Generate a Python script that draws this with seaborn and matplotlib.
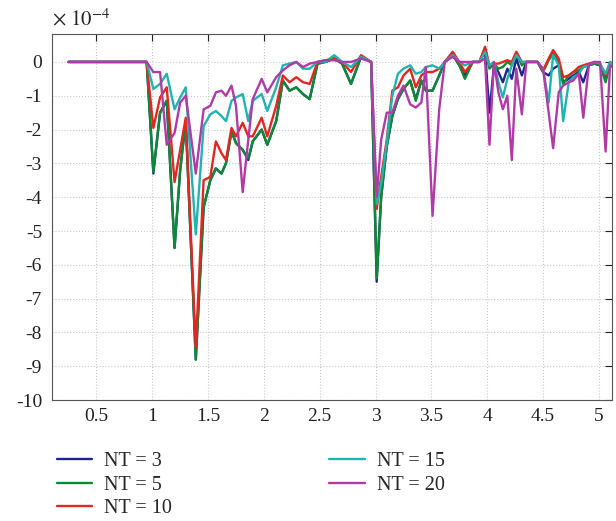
import matplotlib
matplotlib.use("Agg")
from matplotlib import pyplot as plt
import pandas as pd
import seaborn as sns

# abscissa shared by all curves
t = [0.25, 0.95, 1.01, 1.07, 1.13, 1.20, 1.25, 1.30, 1.39, 1.46,
     1.52, 1.57, 1.62, 1.66, 1.71, 1.75, 1.81, 1.86, 1.90, 1.98,
     2.03, 2.11, 2.17, 2.23, 2.29, 2.35, 2.41, 2.48, 2.55, 2.63,
     2.70, 2.78, 2.87, 2.96, 3.01, 3.05, 3.10, 3.15, 3.20, 3.25,
     3.31, 3.36, 3.41, 3.45, 3.51, 3.57, 3.62, 3.69, 3.75, 3.80,
     3.87, 3.93, 3.98, 4.02, 4.06, 4.10, 4.14, 4.18, 4.22, 4.26,
     4.31, 4.35, 4.40, 4.45, 4.50, 4.55, 4.59, 4.64, 4.68, 4.73,
     4.77, 4.82, 4.86, 4.91, 4.96, 5.01, 5.06, 5.10, 5.12]

# values in units of 1e-4
nt3 = [0, 0, -3.3, -1.5, -1.15, -5.5, -3.2, -1.75, -8.8, -4.3,
       -3.5, -3.15, -3.3, -3.0, -2.05, -2.4, -2.6, -2.9, -2.35, -2.0,
       -2.45, -1.75, -0.55, -0.85, -0.75, -0.95, -1.1, -0.05, 0.0, 0.1,
       -0.05, -0.65, 0.15, 0.0, -6.5, -4.0, -2.5, -1.6, -1.1, -0.8,
       -0.55, -1.1, -0.55, -0.85, -0.85, -0.4, 0.0, 0.2, -0.1, -0.4,
       0.0, 0.0, 0.3, -1.5, -0.1, -0.3, -0.6, -0.2, -0.5, 0.1,
       -0.4, 0.0, 0.0, 0.0, -0.3, -0.4, -0.2, -0.1, -0.6, -0.5,
       -0.4, -0.3, -0.6, -0.1, -0.05, -0.1, -0.5, -0.05, -0.1]
nt5 = [0, 0, -3.25, -1.5, -1.15, -5.5, -3.2, -1.75, -8.8, -4.3,
       -3.5, -3.15, -3.3, -3.0, -2.05, -2.4, -2.6, -2.85, -2.35, -2.0,
       -2.45, -1.75, -0.55, -0.85, -0.75, -0.95, -1.1, -0.05, 0.0, 0.1,
       -0.05, -0.65, 0.15, 0.0, -6.4, -4.0, -2.5, -1.6, -1.1, -0.8,
       -0.55, -1.15, -0.55, -0.85, -0.85, -0.4, 0.0, 0.25, -0.1, -0.5,
       0.0, 0.0, 0.4, -0.2, -0.05, -0.2, -0.15, 0.0, -0.1, 0.25,
       -0.1, 0.0, 0.0, 0.0, -0.3, 0.05, 0.25, 0.0, -0.65, -0.4,
       -0.3, -0.25, -0.15, -0.1, -0.05, -0.1, -0.6, -0.05, -0.1]
nt10 = [0, 0, -1.95, -1.05, -0.75, -3.55, -2.6, -1.65, -8.45, -3.5,
        -3.4, -2.35, -2.7, -2.9, -1.95, -2.2, -1.8, -2.2, -2.2, -1.65,
        -2.2, -1.3, -0.4, -0.6, -0.45, -0.6, -0.65, 0.0, 0.05, 0.1,
        0.0, -0.3, 0.2, 0.0, -4.35, -3.4, -2.3, -0.85, -0.75, -0.4,
        -0.2, -0.75, -0.4, -0.3, -0.3, -0.2, 0.0, 0.3, 0.0, -0.3,
        0.0, 0.0, 0.45, -0.1, -0.05, -0.05, 0.0, 0.05, 0.0, 0.3,
        0.0, 0.0, 0.0, 0.0, -0.25, 0.1, 0.35, 0.1, -0.45, -0.4,
        -0.3, -0.15, -0.1, -0.05, 0.0, -0.05, -0.4, 0.0, -0.05]
nt15 = [0, 0, -0.8, -0.65, -0.35, -1.4, -1.05, -0.75, -5.1, -1.9,
        -1.55, -1.45, -1.6, -1.75, -1.15, -1.05, -0.95, -1.75, -1.15, -0.95,
        -1.45, -0.75, -0.1, -0.05, 0.0, -0.2, -0.2, 0.0, 0.0, 0.2,
        0.0, -0.15, 0.15, 0.0, -4.2, -3.6, -2.4, -1.0, -0.35, -0.2,
        -0.1, -0.35, -0.3, -0.15, -0.1, -0.2, 0.0, 0.2, 0.0, -0.1,
        0.0, 0.0, 0.3, -0.1, 0.0, -0.6, -1.05, -0.5, -0.1, 0.2,
        0.0, 0.0, 0.0, 0.0, -0.2, -1.2, 0.2, -0.1, -1.75, -0.6,
        -0.45, -0.35, -0.15, -0.1, 0.0, -0.05, -0.35, 0.0, -0.1]
nt20 = [0, 0, -0.3, -0.3, -2.45, -2.1, -1.2, -1.0, -3.3, -1.4,
        -1.3, -0.9, -0.85, -1.0, -0.7, -1.3, -3.85, -2.3, -1.1, -0.5,
        -0.9, -0.45, -0.25, -0.1, 0.0, -0.15, -0.05, 0.0, 0.05, 0.05,
        0.0, 0.0, 0.1, 0.0, -4.0, -2.3, -1.5, -1.5, -1.0, -0.7,
        -1.25, -1.35, -1.2, -0.15, -4.55, -1.4, 0.0, 0.15, 0.0, 0.0,
        0.0, 0.0, 0.1, -2.45, 0.0, -0.9, -1.4, -1.0, -2.9, -0.2,
        -1.55, 0.0, 0.0, 0.0, -0.2, -1.5, -2.55, -0.9, -0.7, -0.6,
        -0.55, -0.35, -1.65, -0.1, 0.0, 0.0, -2.65, -0.1, -0.15]

labels = ["NT = 3", "NT = 5", "NT = 10", "NT = 15", "NT = 20"]
colors = ["#23238e", "#0b8a36", "#e5261f", "#22b3b0", "#b03aa8"]

frames = []
for lab, vals in zip(labels, [nt3, nt5, nt10, nt15, nt20]):
    frames.append(pd.DataFrame({"t": t, "v": vals, "NT": lab}))
df = pd.concat(frames, ignore_index=True)

sns.set_style("white")
plt.rcParams["font.family"] = ["Liberation Serif", "DejaVu Serif"]
plt.rcParams["mathtext.fontset"] = "stix"
plt.rcParams["axes.unicode_minus"] = False

fig = plt.figure(figsize=(6.16, 5.21), dpi=100)
ax = fig.add_axes([0.084, 0.232, 0.910, 0.703])

sns.lineplot(data=df, x="t", y="v", hue="NT", palette=colors, hue_order=labels,
             linewidth=1.7, sort=False, ax=ax)

ax.set_xlim(0.1, 5.12)
ax.set_ylim(-10, 0.83)
ax.set_xticks([0.5, 1, 1.5, 2, 2.5, 3, 3.5, 4, 4.5, 5])
ax.set_xticklabels(["0.5", "1", "1.5", "2", "2.5", "3", "3.5", "4", "4.5", "5"])
ax.set_yticks(range(0, -11, -1))
ax.set_yticklabels([str(v) for v in range(0, -11, -1)])
ax.set_xlabel("")
ax.set_ylabel("")
ax.grid(True, linestyle=":", color="#c8c8c8", linewidth=0.8)
ax.tick_params(direction="in", length=5, width=0.8, labelsize=14,
               top=True, right=True, colors="#222222", pad=7)
ax.tick_params(axis="x", pad=6)
for s in ax.spines.values():
    s.set_color("#555555")
    s.set_linewidth(0.8)

fig.text(0.084, 0.952, r"$\times\ 10^{-4}$", fontsize=15, ha="left", va="baseline")

ax.legend(loc="upper left", bbox_to_anchor=(-0.005, -0.12), ncol=2, frameon=False,
          fontsize=14.5, handlelength=1.75, handletextpad=0.6, columnspacing=7.8,
          labelspacing=0.22, borderaxespad=0)

fig.savefig("out.png", dpi=100)
